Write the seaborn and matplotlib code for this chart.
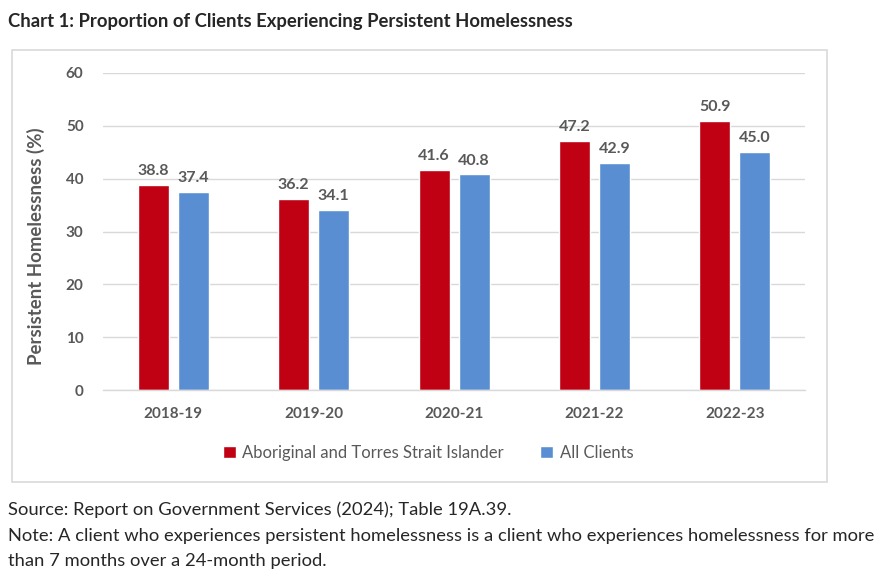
import pandas as pd
import matplotlib
matplotlib.use("Agg")
import matplotlib.pyplot as plt
from matplotlib.patches import Rectangle, Patch
import seaborn as sns

sns.set_style("white")
plt.rcParams['font.family'] = ['Lato', 'DejaVu Sans']

# Data
years = ['2018-19', '2019-20', '2020-21', '2021-22', '2022-23']
series = ['Aboriginal and Torres Strait Islander', 'All Clients']
aboriginal = [38.8, 36.2, 41.6, 47.2, 50.9]
all_clients = [37.4, 34.1, 40.8, 42.9, 45.0]
colors = ['#C00013', '#5A8ED2']

df = pd.DataFrame({
    'Year': years * 2,
    'Group': [series[0]] * len(years) + [series[1]] * len(years),
    'Value': aboriginal + all_clients,
})

grey = '#595959'
fig = plt.figure(figsize=(8.92, 5.77), dpi=100)

# chart box border
fig.patches.append(Rectangle((0.0135, 0.1646), 0.9137, 0.7487, transform=fig.transFigure,
                             fill=False, edgecolor='#D9D9D9', linewidth=1.2))

ax = fig.add_axes([0.1155, 0.324, 0.787, 0.5495])
sns.barplot(data=df, x='Year', y='Value', hue='Group', palette=colors,
            width=0.57, gap=0.225, ax=ax, legend=False, saturation=1)

ax.set_ylim(0, 60)
ax.set_yticks(range(0, 61, 10))
ax.yaxis.grid(True, color='#D9D9D9', linewidth=1)
ax.set_axisbelow(True)
for s in ['top', 'right', 'left']:
    ax.spines[s].set_visible(False)
ax.spines['bottom'].set_color('#D9D9D9')
ax.spines['bottom'].set_linewidth(1)
ax.tick_params(axis='x', length=0, pad=12, labelsize=11, labelcolor=grey)
ax.tick_params(axis='y', length=0, pad=14, labelsize=11, labelcolor=grey)
for lbl in ax.get_xticklabels() + ax.get_yticklabels():
    lbl.set_fontweight('bold')
ax.set_xlabel('')
ax.set_ylabel('Persistent Homelessness (%)', fontsize=13.4, color=grey)
ax.yaxis.label.set_fontweight('bold')
ax.yaxis.set_label_coords(-0.082, 0.454)

for cont in ax.containers:
    ax.bar_label(cont, fmt='%.1f', padding=5, fontsize=11.5, fontweight='bold', color=grey)

handles = [Patch(facecolor=c, label=s) for c, s in zip(colors, series)]
fig.legend(handles=handles, loc='center', bbox_to_anchor=(0.48, 1 - 453 / 577), ncol=2,
           frameon=False, fontsize=12, labelcolor=grey, handlelength=0.75, handleheight=0.75,
           handletextpad=0.4, columnspacing=2.2)

fig.text(0.009, 1 - 22 / 577, 'Chart 1: Proportion of Clients Experiencing Persistent Homelessness',
         fontsize=13.3, fontweight='bold', va='center', ha='left')
notes = ['Source: Report on Government Services (2024); Table 19A.39.',
         'Note: A client who experiences persistent homelessness is a client who experiences homelessness for more',
         'than 7 months over a 24-month period.']
for i, t in enumerate(notes):
    fig.text(0.009, 1 - (510 + 25.5 * i) / 577, t, fontsize=13.25, va='center', ha='left')

fig.savefig('out.png', dpi=100)
